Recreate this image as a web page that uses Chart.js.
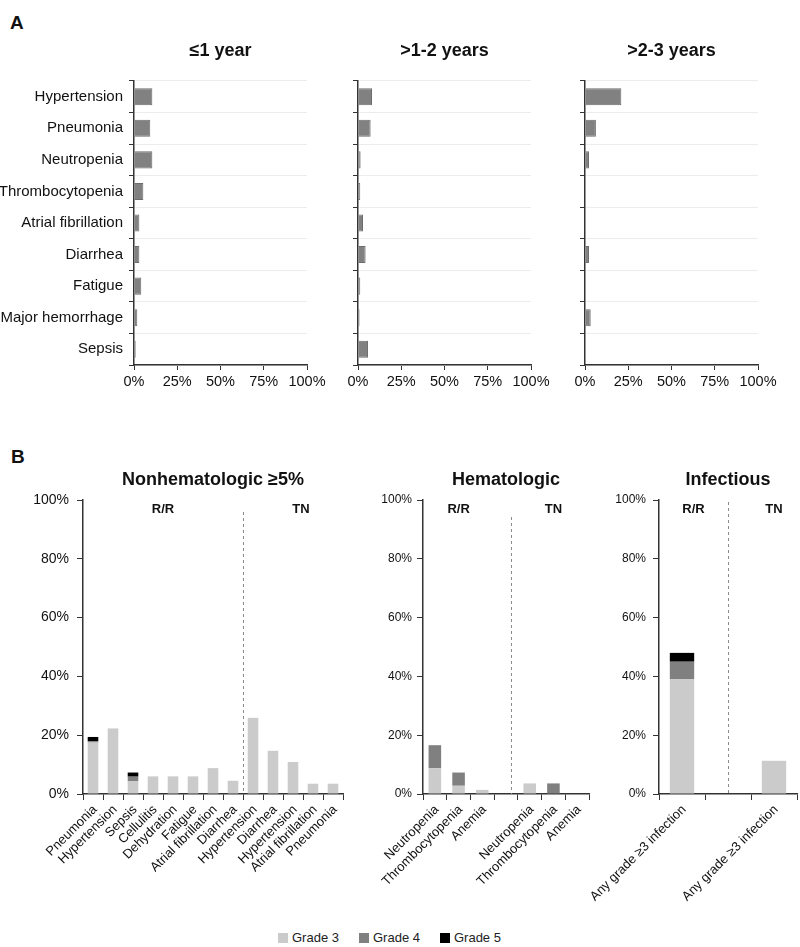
<!DOCTYPE html>
<html>
<head>
<meta charset="utf-8">
<script src="https://cdn.jsdelivr.net/npm/chart.js@4.4.1/dist/chart.umd.min.js"></script>
<style>
  body { margin: 0; background: #fff; }
  #fig { position: relative; width: 800px; height: 947px; background: #fff; font-family: 'Liberation Sans', Arial, sans-serif; color: #111; overflow: hidden; }
  .box { position: absolute; }
  .letter { position: absolute; font-weight: bold; font-size: 19px; }
  #legend { position: absolute; left: 278px; top: 931px; display: flex; font-size: 13px; color: #222; line-height: 14px; }
  #legend .item { display: flex; align-items: center; margin-right: 20px; }
  #legend i { display: inline-block; width: 10px; height: 10px; margin-right: 4px; }
</style>
</head>
<body>
<div id="fig">
  <div class="letter" style="left:10px;top:12px;">A</div>
  <div class="letter" style="left:11px;top:446px;">B</div>

  <div class="box" style="left:0px;top:30px;width:330px;height:365px;"><canvas id="a1"></canvas></div>
  <div class="box" style="left:330px;top:30px;width:225px;height:365px;"><canvas id="a2"></canvas></div>
  <div class="box" style="left:557px;top:30px;width:243px;height:365px;"><canvas id="a3"></canvas></div>

  <div class="box" style="left:0px;top:460px;width:360px;height:460px;"><canvas id="bNonhem"></canvas></div>
  <div class="box" style="left:375px;top:460px;width:225px;height:460px;"><canvas id="bHem"></canvas></div>
  <div class="box" style="left:570px;top:460px;width:230px;height:460px;"><canvas id="bInf"></canvas></div>

  <div id="legend"></div>
</div>

<script>
// ---- data (A: grade >=3 AEs by time on treatment) ----
const aeCategories = ["Hypertension", "Pneumonia", "Neutropenia", "Thrombocytopenia", "Atrial fibrillation",
  "Diarrhea", "Fatigue", "Major hemorrhage", "Sepsis"];
const periodTitles = ["≤1 year", ">1-2 years", ">2-3 years"];
const year1 = [10.6, 9.4, 10.6, 5.4, 3.1, 3.1, 4.2, 1.9, 1.0];
const year2 = [8.1, 7.3, 1.5, 1.3, 2.9, 4.4, 1.3, 0.9, 5.8];
const year3 = [21.0, 6.3, 2.3, 0, 0, 2.3, 0, 3.3, 0];

// ---- data (B: grade 3/4/5 by cohort) ----
const gradeNames = ["Grade 3", "Grade 4", "Grade 5"];
const gradeColors = ["#cbcbcb", "#808080", "#000000"];

const nonhemLabels = ["Pneumonia", "Hypertension", "Sepsis", "Cellulitis", "Dehydration", "Fatigue",
  "Atrial fibrillation", "Diarrhea", "Hypertension", "Diarrhea", "Hypertension", "Atrial fibrillation", "Pneumonia"];
const nonhemG3 = [17.5, 22.3, 4.3, 6.0, 6.0, 6.0, 8.8, 4.5, 25.9, 14.7, 10.9, 3.5, 3.5];
const nonhemG4 = [0.5, 0, 1.6, 0, 0, 0, 0, 0, 0, 0, 0, 0, 0];
const nonhemG5 = [1.4, 0, 1.4, 0, 0, 0, 0, 0, 0, 0, 0, 0, 0];

const hemLabels = ["Neutropenia", "Thrombocytopenia", "Anemia", "", "Neutropenia", "Thrombocytopenia", "Anemia"];
const hemG3 = [8.8, 2.8, 1.4, 0, 3.6, 0, 0];
const hemG4 = [7.8, 4.5, 0, 0, 0, 3.6, 0];
const hemG5 = [0, 0, 0, 0, 0, 0, 0];

const infLabels = ["Any grade ≥3 infection", "", "Any grade ≥3 infection"];
const infG3 = [39.0, 0, 11.3];
const infG4 = [6.0, 0, 0];
const infG5 = [3.0, 0, 0];

const FONT = "'Liberation Sans', Arial, sans-serif";
Chart.defaults.font.family = FONT;
Chart.defaults.color = "#111";

// titles, R/R / TN headers and the dashed cohort divider
const panelText = {
  id: "panelText",
  afterDraw(chart, args, opts) {
    const { ctx, chartArea, scales } = chart;
    ctx.save();
    if (opts.divider !== undefined) {
      const x = Math.round(scales.x.getPixelForValue(opts.divider)) + 0.5;
      ctx.strokeStyle = "#8a8a8a";
      ctx.lineWidth = 1;
      ctx.setLineDash([3, 3]);
      ctx.beginPath();
      ctx.moveTo(x, chartArea.top + opts.dividerGap);
      ctx.lineTo(x, chartArea.bottom);
      ctx.stroke();
      ctx.setLineDash([]);
    }
    ctx.fillStyle = "#111";
    ctx.textAlign = "center";
    ctx.textBaseline = "middle";
    ctx.font = "bold 18px " + FONT;
    ctx.fillText(opts.title, (chartArea.left + chartArea.right) / 2, chartArea.top - opts.titleOffset);
    ctx.font = "bold 13px " + FONT;
    (opts.groups || []).forEach(g => {
      ctx.fillText(g.text, scales.x.getPixelForValue(g.at), chartArea.top + 9);
    });
    ctx.restore();
  }
};

function makeTimeChart(id, values, title, showLabels, yWidth, padRight) {
  new Chart(document.getElementById(id), {
    type: "bar",
    data: {
      labels: aeCategories,
      datasets: [{
        data: values,
        backgroundColor: "#818181",
        borderColor: "#6c6c6c",
        borderWidth: 1,
        barPercentage: 0.54,
        categoryPercentage: 1
      }]
    },
    options: {
      indexAxis: "y",
      responsive: true,
      maintainAspectRatio: false,
      animation: false,
      layout: { padding: { top: 51, right: padRight, left: 0, bottom: 0 } },
      plugins: {
        legend: { display: false },
        tooltip: { enabled: false },
        panelText: { title: title, titleOffset: 30 }
      },
      scales: {
        x: {
          min: 0, max: 100,
          ticks: { stepSize: 25, callback: v => v + "%", font: { size: 14.5 }, color: "#111", padding: 3, maxRotation: 0 },
          grid: { drawOnChartArea: false, tickLength: 5, tickColor: "#333" },
          border: { color: "#333", width: 1.5 },
          afterFit: s => { s.height = 30; s.paddingLeft = 0; s.paddingRight = 0; }
        },
        y: {
          ticks: {
            autoSkip: false, font: { size: 15 }, color: "#111", padding: 6,
            callback: function (v) { return showLabels ? this.getLabelForValue(v) : ""; }
          },
          grid: { color: "#ececec", tickColor: "#333", tickLength: 5, offset: true },
          border: { color: "#333", width: 1.5 },
          afterFit: s => { s.width = yWidth; s.paddingTop = 0; s.paddingBottom = 0; }
        }
      }
    },
    plugins: [panelText]
  });
}

makeTimeChart("a1", year1, periodTitles[0], true, 134, 23);
makeTimeChart("a2", year2, periodTitles[1], false, 28, 24);
makeTimeChart("a3", year3, periodTitles[2], false, 28, 42);

function makeGradeChart(id, labels, grades, cfg) {
  new Chart(document.getElementById(id), {
    type: "bar",
    data: {
      labels: labels,
      datasets: grades.map((vals, i) => ({
        label: gradeNames[i],
        data: vals,
        backgroundColor: gradeColors[i],
        borderWidth: 0,
        barPercentage: 0.53,
        categoryPercentage: 1
      }))
    },
    options: {
      responsive: true,
      maintainAspectRatio: false,
      animation: false,
      layout: { padding: { top: 40, right: cfg.padRight, left: 0, bottom: 0 } },
      plugins: {
        legend: { display: false },
        tooltip: { enabled: false },
        panelText: { title: cfg.title, titleOffset: 20, groups: cfg.groups, divider: cfg.divider, dividerGap: cfg.dividerGap }
      },
      scales: {
        x: {
          stacked: true,
          ticks: { autoSkip: false, minRotation: 45, maxRotation: 45, font: { size: 13 }, color: "#111", padding: 2, labelOffset: 2 },
          grid: { drawOnChartArea: false, tickLength: 6, tickColor: "#333", offset: true },
          border: { color: "#333", width: 1.5 },
          afterFit: s => { s.height = 126; s.paddingLeft = 0; s.paddingRight = 0; }
        },
        y: {
          stacked: true,
          min: 0, max: 100,
          ticks: { stepSize: 20, callback: v => v + "%", font: { size: cfg.yFont }, color: "#111", padding: cfg.yPad },
          grid: { drawOnChartArea: false, tickLength: 6, tickColor: "#333" },
          border: { color: "#333", width: 1.5 },
          afterFit: s => { s.width = cfg.yWidth; s.paddingTop = 0; s.paddingBottom = 0; }
        }
      }
    },
    plugins: [panelText]
  });
}

makeGradeChart("bNonhem", nonhemLabels, [nonhemG3, nonhemG4, nonhemG5], {
  title: "Nonhematologic ≥5%", yWidth: 83, padRight: 17, yFont: 14, yPad: 8,
  groups: [{ text: "R/R", at: 3.5 }, { text: "TN", at: 10.4 }], divider: 7.5, dividerGap: 12
});
makeGradeChart("bHem", hemLabels, [hemG3, hemG4, hemG5], {
  title: "Hematologic", yWidth: 48, padRight: 11, yFont: 12, yPad: 5,
  groups: [{ text: "R/R", at: 1.0 }, { text: "TN", at: 5.0 }], divider: 3.2, dividerGap: 17
});
makeGradeChart("bInf", infLabels, [infG3, infG4, infG5], {
  title: "Infectious", yWidth: 89, padRight: 3, yFont: 12, yPad: 7,
  groups: [{ text: "R/R", at: 0.25 }, { text: "TN", at: 2.0 }], divider: 1, dividerGap: 2
});

// shared legend for panel B
const legend = document.getElementById("legend");
gradeNames.forEach((name, i) => {
  const item = document.createElement("span");
  item.className = "item";
  item.innerHTML = '<i style="background:' + gradeColors[i] + '"></i>' + name;
  legend.appendChild(item);
});
</script>
</body>
</html>
